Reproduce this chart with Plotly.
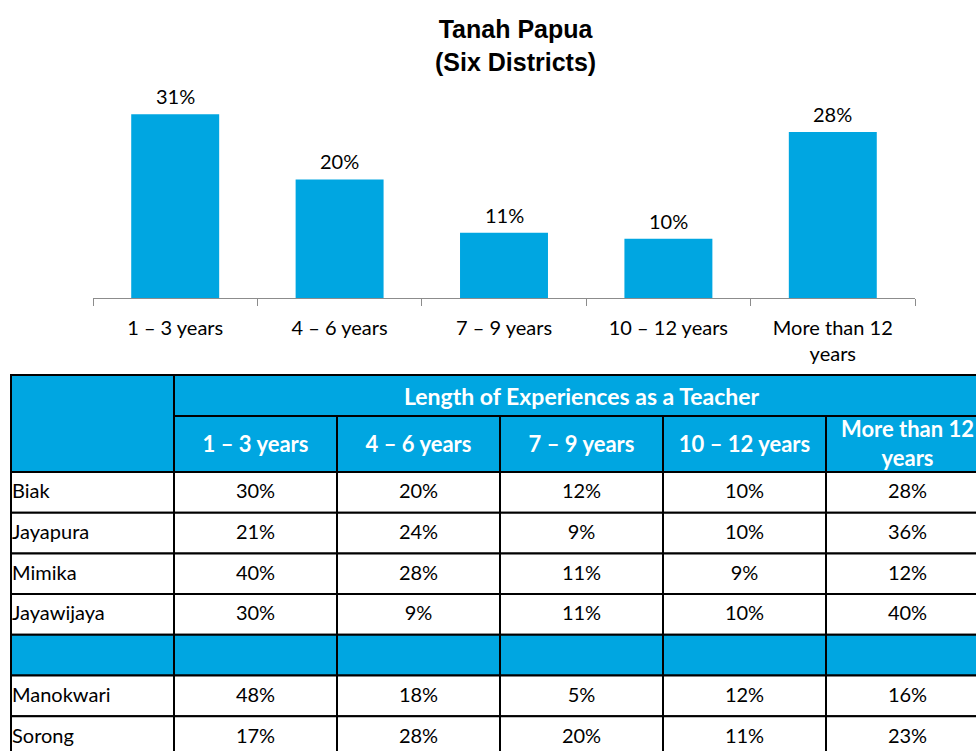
import plotly.graph_objects as go

# ---------------- data ----------------
categories = ["1 – 3 years", "4 – 6 years", "7 – 9 years", "10 – 12 years", "More than 12 years"]
tick_labels = ["1 – 3 years", "4 – 6 years", "7 – 9 years", "10 – 12 years", "More than 12<br>years"]
overall_pct = [31, 20, 11, 10, 28]

table_title = "Length of Experiences as a Teacher"
header_labels = ["1 – 3 years", "4 – 6 years", "7 – 9 years", "10 – 12 years", "More than 12<br>years"]
districts = ["Biak", "Jayapura", "Mimika", "Jayawijaya", "", "Manokwari", "Sorong"]
yrs_1_3 = [30, 21, 40, 30, None, 48, 17]
yrs_4_6 = [20, 24, 28, 9, None, 18, 28]
yrs_7_9 = [12, 9, 11, 11, None, 5, 20]
yrs_10_12 = [10, 10, 9, 10, None, 12, 11]
yrs_12_plus = [28, 36, 12, 40, None, 16, 23]

# ---------------- style ----------------
W, H = 976, 751
BLUE = "#00A6E1"
FONT = "Lato"
TXT_SIZE = 20


def px_x(p):
    return p / W


def px_y(p):
    return 1 - p / H


fig = go.Figure()

# ---- bar chart ----
fig.add_trace(go.Bar(
    x=categories, y=overall_pct, marker=dict(color=BLUE, line=dict(width=0)),
    xaxis="x", yaxis="y", showlegend=False, hoverinfo="skip",
))
for c, v in zip(categories, overall_pct):
    fig.add_annotation(x=c, y=v, xref="x", yref="y", text=f"{v}%", showarrow=False,
                       yanchor="bottom", yshift=4,
                       font=dict(family=FONT, size=TXT_SIZE, color="#000"))

# title
fig.add_annotation(x=px_x(515), y=px_y(45), xref="paper", yref="paper",
                   text="<b>Tanah Papua<br>(Six Districts)</b>", showarrow=False,
                   xanchor="center", yanchor="middle",
                   font=dict(family="Liberation Sans", size=25, color="#000"))

# ---- table (drawn on its own axes in pixel-like units) ----
col_edges = [11, 174, 337, 500, 663, 826, 989]
hdr_top, hdr_mid, hdr_bot = 375, 416, 472
row_h = 40.7
row_edges = [hdr_bot + i * row_h for i in range(len(districts) + 1)]

shapes = []


def rect(x0, x1, y0, y1, fill):
    shapes.append(dict(type="rect", xref="x2", yref="y2", x0=x0, x1=x1, y0=y0, y1=y1,
                       fillcolor=fill, line=dict(color="#000", width=2), layer="below"))


# headers
rect(col_edges[0], col_edges[1], hdr_top, hdr_bot, BLUE)
rect(col_edges[1], col_edges[-1], hdr_top, hdr_mid, BLUE)
for j in range(1, len(col_edges) - 1):
    rect(col_edges[j], col_edges[j + 1], hdr_mid, hdr_bot, BLUE)

cols = [yrs_1_3, yrs_4_6, yrs_7_9, yrs_10_12, yrs_12_plus]
for i, d in enumerate(districts):
    blank = cols[0][i] is None
    fill = BLUE if blank else "white"
    for j in range(len(col_edges) - 1):
        rect(col_edges[j], col_edges[j + 1], row_edges[i], row_edges[i + 1], fill)

# header text
fig.add_trace(go.Scatter(
    x=[(col_edges[1] + col_edges[-1]) / 2], y=[(hdr_top + hdr_mid) / 2 + 4],
    mode="text", text=[f"<b>{table_title}</b>"], textposition="middle center",
    textfont=dict(family=FONT, size=23, color="white"),
    xaxis="x2", yaxis="y2", showlegend=False, hoverinfo="skip"))
fig.add_trace(go.Scatter(
    x=[(col_edges[j] + col_edges[j + 1]) / 2 for j in range(1, len(col_edges) - 1)],
    y=[(hdr_mid + hdr_bot) / 2 + 2] * len(header_labels),
    mode="text", text=[f"<b>{h}</b>" for h in header_labels], textposition="middle center",
    textfont=dict(family=FONT, size=22, color="white"),
    xaxis="x2", yaxis="y2", showlegend=False, hoverinfo="skip"))

# district names
fig.add_trace(go.Scatter(
    x=[col_edges[0] + 1] * len(districts),
    y=[(row_edges[i] + row_edges[i + 1]) / 2 + 1 for i in range(len(districts))],
    mode="text", text=districts, textposition="middle right",
    textfont=dict(family=FONT, size=TXT_SIZE, color="#000"),
    xaxis="x2", yaxis="y2", showlegend=False, hoverinfo="skip"))

# values
for j, col in enumerate(cols):
    xs, ys, ts = [], [], []
    for i, v in enumerate(col):
        if v is None:
            continue
        xs.append((col_edges[j + 1] + col_edges[j + 2]) / 2)
        ys.append((row_edges[i] + row_edges[i + 1]) / 2 + 1)
        ts.append(f"{v}%")
    fig.add_trace(go.Scatter(
        x=xs, y=ys, mode="text", text=ts, textposition="middle center",
        textfont=dict(family=FONT, size=TXT_SIZE, color="#000"),
        xaxis="x2", yaxis="y2", showlegend=False, hoverinfo="skip"))

# ---- layout ----
base_px, top_px = 298, 84
px_per_pct = 5.93
fig.update_layout(
    width=W, height=H,
    margin=dict(l=0, r=0, t=0, b=0),
    paper_bgcolor="white", plot_bgcolor="rgba(0,0,0,0)",
    bargap=0.465,
    shapes=shapes,
    hovermode=False,
    xaxis=dict(domain=[px_x(93), px_x(915)], type="category", range=[-0.5, 4.5],
               tickmode="array", tickvals=categories, ticktext=tick_labels,
               tickson="boundaries", ticks="outside", ticklen=7, tickcolor="#8c8c8c",
               showline=True, linecolor="#8c8c8c", linewidth=1,
               showgrid=False, zeroline=False, ticklabelstandoff=12,
               tickfont=dict(family=FONT, size=TXT_SIZE, color="#000"),
               fixedrange=True),
    yaxis=dict(domain=[px_y(base_px), px_y(top_px)],
               range=[0, (base_px - top_px) / px_per_pct],
               visible=False, showgrid=False, zeroline=False, fixedrange=True),
    xaxis2=dict(domain=[0, 1], range=[0, W], visible=False, fixedrange=True,
                anchor="y2"),
    yaxis2=dict(domain=[0, px_y(365)], range=[H, 365], visible=False, fixedrange=True,
                anchor="x2"),
)

fig.write_html(
    "out.html",
    config={"displayModeBar": False},
    post_script="document.body.style.margin='0px';document.body.style.overflow='hidden';",
)
